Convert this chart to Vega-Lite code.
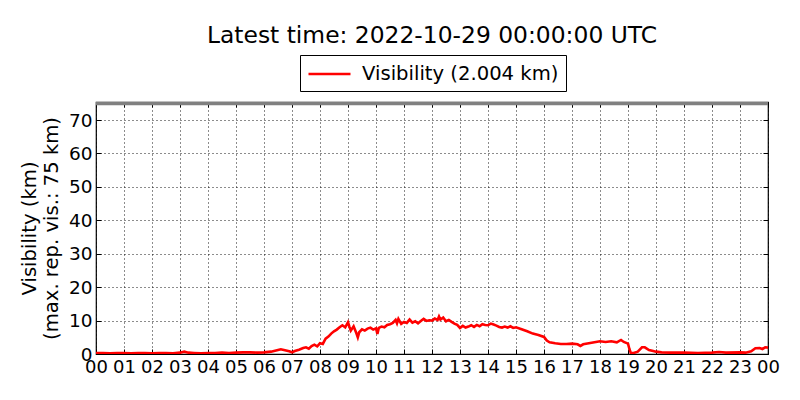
{
  "$schema": "https://vega.github.io/schema/vega-lite/v6.json",
  "autosize": {"type": "none"},
  "width": 672,
  "height": 252,
  "padding": {"left": 96, "top": 102, "right": 32, "bottom": 46},
  "title": {
    "text": "Latest time: 2022-10-29 00:00:00 UTC",
    "anchor": "middle",
    "frame": "group",
    "font": "DejaVu Sans",
    "fontSize": 23.4,
    "fontWeight": "normal",
    "color": "#000000",
    "offset": 6
  },
  "data": {
    "values": [
      {"t": 0, "vis": 0.3}, {"t": 0.25, "vis": 0.3}, {"t": 0.5, "vis": 0.2}, {"t": 0.75, "vis": 0.3},
      {"t": 1, "vis": 0.3}, {"t": 1.25, "vis": 0.2}, {"t": 1.5, "vis": 0.3}, {"t": 1.75, "vis": 0.3},
      {"t": 2, "vis": 0.2}, {"t": 2.25, "vis": 0.3}, {"t": 2.5, "vis": 0.3}, {"t": 2.75, "vis": 0.2},
      {"t": 3, "vis": 0.4}, {"t": 3.15, "vis": 0.7}, {"t": 3.3, "vis": 0.4}, {"t": 3.5, "vis": 0.3},
      {"t": 3.75, "vis": 0.2}, {"t": 4, "vis": 0.3}, {"t": 4.25, "vis": 0.3}, {"t": 4.5, "vis": 0.4},
      {"t": 4.75, "vis": 0.3}, {"t": 5, "vis": 0.4}, {"t": 5.25, "vis": 0.5}, {"t": 5.5, "vis": 0.5},
      {"t": 5.75, "vis": 0.4}, {"t": 6, "vis": 0.5}, {"t": 6.25, "vis": 0.7}, {"t": 6.5, "vis": 1.2},
      {"t": 6.6, "vis": 1.4}, {"t": 6.75, "vis": 1.1}, {"t": 6.9, "vis": 0.8}, {"t": 7, "vis": 0.5},
      {"t": 7.1, "vis": 0.9}, {"t": 7.25, "vis": 1.3}, {"t": 7.4, "vis": 1.8}, {"t": 7.5, "vis": 2.0},
      {"t": 7.6, "vis": 1.6}, {"t": 7.7, "vis": 2.4}, {"t": 7.8, "vis": 2.8}, {"t": 7.9, "vis": 2.3},
      {"t": 8, "vis": 3.2}, {"t": 8.1, "vis": 3.0}, {"t": 8.2, "vis": 4.6}, {"t": 8.3, "vis": 5.2},
      {"t": 8.4, "vis": 6.1}, {"t": 8.5, "vis": 6.8}, {"t": 8.6, "vis": 7.3}, {"t": 8.7, "vis": 8.0},
      {"t": 8.8, "vis": 8.6}, {"t": 8.9, "vis": 8.0}, {"t": 9, "vis": 9.5}, {"t": 9.05, "vis": 8.2},
      {"t": 9.1, "vis": 7.0}, {"t": 9.2, "vis": 8.3}, {"t": 9.3, "vis": 6.2}, {"t": 9.35, "vis": 5.0},
      {"t": 9.4, "vis": 6.5}, {"t": 9.5, "vis": 7.4}, {"t": 9.6, "vis": 7.0}, {"t": 9.7, "vis": 7.6},
      {"t": 9.8, "vis": 7.9}, {"t": 9.9, "vis": 7.3}, {"t": 10, "vis": 7.7}, {"t": 10.05, "vis": 6.0},
      {"t": 10.1, "vis": 7.8}, {"t": 10.2, "vis": 8.2}, {"t": 10.3, "vis": 8.0}, {"t": 10.4, "vis": 8.7},
      {"t": 10.5, "vis": 8.9}, {"t": 10.6, "vis": 9.3}, {"t": 10.7, "vis": 10.2}, {"t": 10.75, "vis": 9.2},
      {"t": 10.8, "vis": 10.5}, {"t": 10.9, "vis": 9.0}, {"t": 11, "vis": 9.6}, {"t": 11.1, "vis": 9.3},
      {"t": 11.2, "vis": 10.3}, {"t": 11.3, "vis": 9.4}, {"t": 11.4, "vis": 9.8}, {"t": 11.5, "vis": 9.2},
      {"t": 11.6, "vis": 9.9}, {"t": 11.7, "vis": 10.5}, {"t": 11.8, "vis": 9.9}, {"t": 11.9, "vis": 10.1},
      {"t": 12, "vis": 10.0}, {"t": 12.1, "vis": 10.6}, {"t": 12.2, "vis": 10.2}, {"t": 12.25, "vis": 11.2},
      {"t": 12.3, "vis": 10.3}, {"t": 12.4, "vis": 10.9}, {"t": 12.5, "vis": 9.8}, {"t": 12.6, "vis": 10.2},
      {"t": 12.7, "vis": 9.6}, {"t": 12.8, "vis": 9.1}, {"t": 12.9, "vis": 8.7}, {"t": 13, "vis": 7.8},
      {"t": 13.1, "vis": 8.4}, {"t": 13.2, "vis": 7.9}, {"t": 13.3, "vis": 8.2}, {"t": 13.4, "vis": 8.6},
      {"t": 13.5, "vis": 8.1}, {"t": 13.6, "vis": 8.7}, {"t": 13.7, "vis": 8.3}, {"t": 13.8, "vis": 8.9},
      {"t": 13.9, "vis": 8.7}, {"t": 14, "vis": 8.6}, {"t": 14.1, "vis": 9.1}, {"t": 14.2, "vis": 8.8},
      {"t": 14.3, "vis": 8.5}, {"t": 14.4, "vis": 8.1}, {"t": 14.5, "vis": 7.9}, {"t": 14.6, "vis": 8.2},
      {"t": 14.7, "vis": 7.9}, {"t": 14.8, "vis": 8.3}, {"t": 14.9, "vis": 7.8}, {"t": 15, "vis": 8.0},
      {"t": 15.2, "vis": 7.4}, {"t": 15.4, "vis": 6.8}, {"t": 15.6, "vis": 6.1}, {"t": 15.8, "vis": 5.7},
      {"t": 16, "vis": 5.1}, {"t": 16.1, "vis": 4.0}, {"t": 16.2, "vis": 3.5}, {"t": 16.4, "vis": 3.2},
      {"t": 16.6, "vis": 3.0}, {"t": 16.8, "vis": 3.0}, {"t": 17, "vis": 3.1}, {"t": 17.2, "vis": 2.9},
      {"t": 17.3, "vis": 2.4}, {"t": 17.4, "vis": 2.9}, {"t": 17.6, "vis": 3.2}, {"t": 17.8, "vis": 3.5},
      {"t": 18, "vis": 3.8}, {"t": 18.2, "vis": 3.6}, {"t": 18.4, "vis": 3.8}, {"t": 18.6, "vis": 3.5},
      {"t": 18.75, "vis": 4.2}, {"t": 18.85, "vis": 3.6}, {"t": 19, "vis": 3.1}, {"t": 19.05, "vis": 1.5},
      {"t": 19.1, "vis": 0.3}, {"t": 19.2, "vis": 0.3}, {"t": 19.35, "vis": 0.7}, {"t": 19.5, "vis": 2.0},
      {"t": 19.6, "vis": 2.0}, {"t": 19.75, "vis": 1.2}, {"t": 19.9, "vis": 0.9}, {"t": 20, "vis": 0.7},
      {"t": 20.2, "vis": 0.5}, {"t": 20.5, "vis": 0.4}, {"t": 21, "vis": 0.4}, {"t": 21.5, "vis": 0.3},
      {"t": 22, "vis": 0.4}, {"t": 22.25, "vis": 0.6}, {"t": 22.5, "vis": 0.4}, {"t": 23, "vis": 0.5},
      {"t": 23.2, "vis": 0.4}, {"t": 23.4, "vis": 0.8}, {"t": 23.55, "vis": 1.7}, {"t": 23.7, "vis": 1.8},
      {"t": 23.8, "vis": 1.5}, {"t": 23.9, "vis": 2.0}, {"t": 24, "vis": 1.9}
    ]
  },
  "layer": [
    {
      "mark": {"type": "line", "strokeWidth": 2.6, "clip": true},
      "encoding": {
        "x": {
          "field": "t",
          "type": "quantitative",
          "scale": {"domain": [0, 24], "nice": false, "zero": false},
          "axis": {
            "title": null,
            "values": [0, 1, 2, 3, 4, 5, 6, 7, 8, 9, 10, 11, 12, 13, 14, 15, 16, 17, 18, 19, 20, 21, 22, 23, 24],
            "labelExpr": "(datum.value % 24 < 10 ? '0' : '') + (datum.value % 24)",
            "labelOverlap": false,
            "labelBound": false,
            "labelFlush": false,
            "labelFontSize": 18,
            "labelPadding": 9
          }
        },
        "y": {
          "field": "vis",
          "type": "quantitative",
          "scale": {"domain": [0, 75.4], "nice": false},
          "axis": {
            "title": ["Visibility (km)", "(max. rep. vis.: 75 km)"],
            "values": [0, 10, 20, 30, 40, 50, 60, 70],
            "labelOverlap": false,
            "labelFlush": false,
            "labelFontSize": 18.5,
            "labelPadding": 9,
            "titleX": -57,
            "titleLineHeight": 22
          }
        },
        "color": {
          "datum": "Visibility (2.004 km)",
          "type": "nominal",
          "scale": {"range": ["#ff0000"]},
          "legend": {
            "title": null,
            "orient": "none",
            "legendX": 204,
            "legendY": -47,
            "symbolType": "M-1,0H3",
            "symbolSize": 441,
            "symbolStrokeWidth": 2.5,
            "symbolFillColor": "transparent",
            "strokeColor": "#000000",
            "padding": 7,
            "labelFontSize": 19.6,
            "labelLimit": 0,
            "labelOffset": 31
          }
        }
      }
    },
    {
      "mark": {"type": "line", "opacity": 0},
      "encoding": {
        "x": {
          "field": "t",
          "type": "quantitative",
          "axis": {
            "orient": "top",
            "title": null,
            "labels": false,
            "grid": false,
            "values": [0, 1, 2, 3, 4, 5, 6, 7, 8, 9, 10, 11, 12, 13, 14, 15, 16, 17, 18, 19, 20, 21, 22, 23, 24]
          }
        },
        "y": {
          "field": "vis",
          "type": "quantitative",
          "axis": {
            "orient": "right",
            "title": null,
            "labels": false,
            "grid": false,
            "values": [0, 10, 20, 30, 40, 50, 60, 70]
          }
        }
      }
    },
    {
      "data": {"values": [{"max": 75}]},
      "mark": {"type": "rule", "color": "#808080", "strokeWidth": 4, "clip": true},
      "encoding": {"y": {"field": "max", "type": "quantitative", "axis": null}}
    }
  ],
  "resolve": {"axis": {"x": "independent", "y": "independent"}},
  "config": {
    "font": "DejaVu Sans",
    "view": {"stroke": "#000000", "strokeWidth": 1.2},
    "axis": {
      "domain": false,
      "grid": true,
      "gridColor": "#000000",
      "gridDash": [1, 3],
      "gridOpacity": 0.9,
      "tickColor": "#000000",
      "tickSize": -5,
      "labelColor": "#000000",
      "labelFont": "DejaVu Sans",
      "labelFontSize": 19.4,
      "titleFont": "DejaVu Sans",
      "titleFontSize": 19.6,
      "titleFontWeight": "normal",
      "titleColor": "#000000"
    },
    "legend": {
      "labelFont": "DejaVu Sans",
      "labelColor": "#000000",
      "labelFontSize": 19.6
    }
  }
}
